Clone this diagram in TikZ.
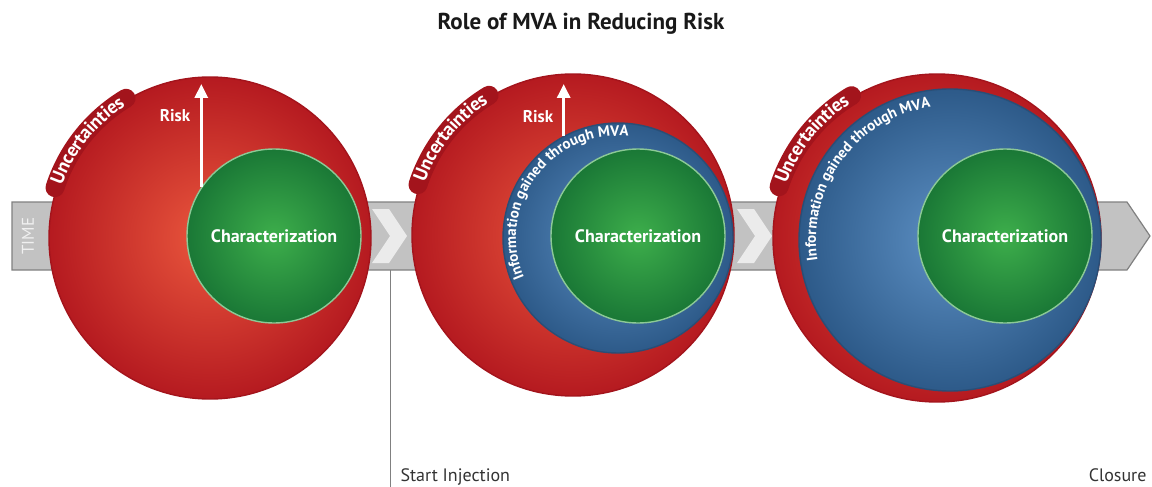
\documentclass[tikz,border=0pt]{standalone}
\usepackage{fontspec}
\setmainfont{PT Sans}
\usepackage{xcolor}
\usetikzlibrary{calc,arrows.meta,decorations.text}

\begin{document}
\begin{tikzpicture}[x=1pt,y=-1pt,
    ball/.style={circle,inner sep=0pt,line width=1.4pt},
    uncball/.style={ball,draw=redEdge,inner color=redCore,outer color=redRim},
    infoball/.style={ball,draw=blueEdge,inner color=blueCore,outer color=blueRim},
    charball/.style={ball,draw=greenEdge,inner color=greenCore,outer color=greenRim,
      text=white,font=\bfseries\fontsize{18}{20}\selectfont},
    risklabel/.style={text=white,font=\bfseries\fontsize{17}{19}\selectfont},
    riskarrow/.style={white,line width=3pt,-{Triangle[width=13pt,length=14pt]}},
    ribbon/.style={redEdge,line width=19pt,line cap=round},
    milestone/.style={text=black!80,font=\fontsize{18}{20}\selectfont}]
                \def\bandtop{202}
                \def\bandbot{270}
                \definecolor{redCore}{HTML}{EA573D}
                \definecolor{redRim}{HTML}{B51A20}
                \definecolor{redEdge}{HTML}{A3141C}
                \definecolor{blueCore}{HTML}{5D90C4}
                \definecolor{blueRim}{HTML}{2D5A89}
                \definecolor{blueEdge}{HTML}{2A4E76}
                \definecolor{greenCore}{HTML}{3DAE4B}
                \definecolor{greenRim}{HTML}{1A7836}
                \definecolor{greenEdge}{HTML}{8CC996}
                \colorlet{bandFill}{black!24}
                \colorlet{bandEdge}{black!50}
                \colorlet{chevFill}{black!8}
                \useasboundingbox (0,0) rectangle (1152,487);
                \node[font=\bfseries\fontsize{23}{25}\selectfont,text=black!90] (title) at (581,24) {Role of MVA in Reducing Risk};
                \draw[bandEdge,line width=1.2pt,fill=bandFill] (12,\bandtop) -- (1127,\bandtop) -- (1150,236) -- (1127,\bandbot) -- (12,\bandbot) -- cycle;
                \node[rotate=90,text=black!6,font=\fontsize{17}{17}\selectfont] (time) at (28,236) {TIME};
                \foreach \x in {372,737} {
                  \fill[chevFill] (\x,209) -- (\x+17,209) -- (\x+35,236) -- (\x+17,263) -- (\x,263) -- (\x+18,236) -- cycle;
                }
                \coordinate (inj) at (390,\bandbot);
                \node[milestone,anchor=base west] (startinj) at (397,481) {Start Injection};
                \node[milestone,anchor=base east] (closure) at (1150,481) {Closure};
                \draw[black!50,line width=1pt] (inj) -- (inj |- startinj.south);
                \foreach \n/\cx/\cy/\r in {1/210/238/161,2/573/235/161,3/937/238/164} {
                  \node[uncball,minimum size={2*\r pt}] (unc\n) at (\cx,\cy) {};
                }
                \node[infoball,minimum size=230pt] (info2) at (618,238) {};
                \node[infoball,minimum size=302pt] (info3) at (950,240) {};
                \foreach \n/\cx in {1/274,2/638,3/1005} {
                  \node[charball,minimum size=174pt] (char\n) at (\cx,236) {Characterization};
                }
                \foreach \n/\r in {1/163,2/163,3/166} {
                  \draw[ribbon] ($(unc\n.center)+(162:\r pt)$) arc[start angle=162,end angle=121,radius=\r pt];
                  \path[decorate,decoration={text along path,text align=center,text color=white,raise=-6pt,
                    text={|\bfseries\fontsize{19}{19}\selectfont|Uncertainties}}]
                    ($(unc\n.center)+(166:\r pt)$) arc[start angle=166,end angle=117,radius=\r pt];
                }
                \path[decorate,decoration={text along path,text align=center,text color=white,
                  text={|\bfseries\fontsize{15}{15}\selectfont|Information gained through MVA}}]
                  ($(info2.center)+(215:102pt)$) arc[start angle=215,end angle=72,radius=102pt];
                \path[decorate,decoration={text along path,text align=center,text color=white,
                  text={|\bfseries\fontsize{15}{15}\selectfont|Information gained through MVA}}]
                  ($(info3.center)+(199:134pt)$) arc[start angle=199,end angle=88,radius=134pt];
                \coordinate (risktop) at (0,84);
                \draw[riskarrow] (char1.146) -- (char1.146 |- risktop);
                \node[risklabel] (risk1) at (175,116) {Risk};
                \draw[riskarrow] (info2.118) -- (info2.118 |- risktop);
                \node[risklabel] (risk2) at (538,117) {Risk};
              \end{tikzpicture}
\end{document}
